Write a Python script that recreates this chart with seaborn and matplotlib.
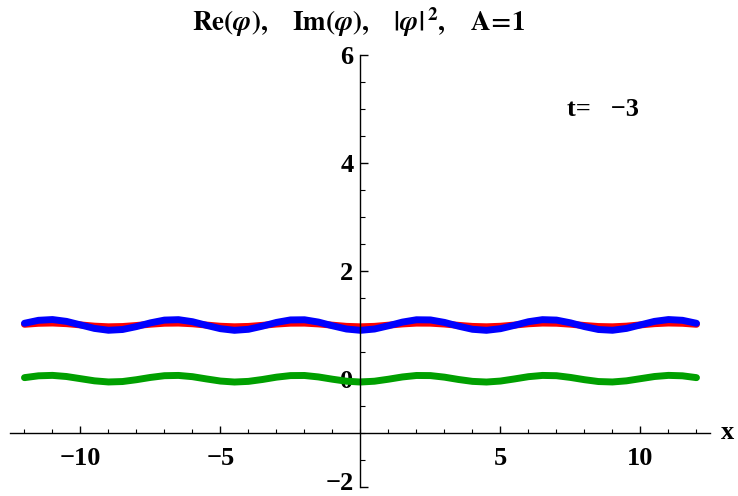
import matplotlib
matplotlib.use('Agg')
import matplotlib.pyplot as plt
import matplotlib.transforms as mtransforms
import pandas as pd
import seaborn as sns
from matplotlib.ticker import MultipleLocator

sns.set_theme(style='white')
plt.rcParams['font.family'] = ['Liberation Serif', 'DejaVu Serif']
plt.rcParams['font.weight'] = 'bold'
plt.rcParams['mathtext.fontset'] = 'stix'
plt.rcParams['text.color'] = 'black'

# x samples, read every 0.5 from -12 to 12
x_vals = [i * 0.5 for i in range(-24, 25)]

# |phi|^2 (blue) for x = 0 .. 12, curve is symmetric
abs2_half = [0.900, 0.924, 0.984, 1.052, 1.095, 1.092, 1.046, 0.977, 0.919, 0.900,
             0.930, 0.992, 1.059, 1.097, 1.089, 1.038, 0.969, 0.915, 0.901, 0.935,
             1.000, 1.065, 1.099, 1.085, 1.030]
# Re(phi) (red)
re_half = [0.965, 0.973, 0.995, 1.018, 1.033, 1.032, 1.016, 0.992, 0.972, 0.965,
           0.975, 0.997, 1.021, 1.034, 1.031, 1.013, 0.989, 0.970, 0.965, 0.977,
           1.000, 1.023, 1.035, 1.030, 1.011]
# Im(phi) (green)
im_half = [-0.057, -0.042, -0.005, 0.037, 0.064, 0.062, 0.033, -0.010, -0.045, -0.057,
           -0.039, 0.000, 0.042, 0.065, 0.060, 0.028, -0.014, -0.048, -0.056, -0.035,
           0.005, 0.045, 0.066, 0.058, 0.024]

abs2_vals = abs2_half[:0:-1] + abs2_half
re_vals = re_half[:0:-1] + re_half
im_vals = im_half[:0:-1] + im_half

df = pd.DataFrame({'x': x_vals, 're': re_vals, 'im': im_vals, 'abs2': abs2_vals})

fig = plt.figure(figsize=(7.38, 4.96), dpi=100)
ax = fig.add_axes([0.0142, 0.0181, 0.9485, 0.8716])

lw = 5
sns.lineplot(data=df, x='x', y='re', color='#ff0000', lw=lw, ax=ax, solid_capstyle='round')
sns.lineplot(data=df, x='x', y='im', color='#00a000', lw=lw, ax=ax, solid_capstyle='round')
sns.lineplot(data=df, x='x', y='abs2', color='#0000ff', lw=lw, ax=ax, solid_capstyle='round')

ax.set_xlim(-12.5, 12.5)
ax.set_ylim(-2, 6)
ax.set_xlabel('')
ax.set_ylabel('')

# axes crossing like Mathematica
ax.spines['left'].set_position(('data', 0))
ax.spines['bottom'].set_position(('data', -1))
ax.spines['top'].set_visible(False)
ax.spines['right'].set_visible(False)
for s in ['left', 'bottom']:
    ax.spines[s].set_color('black')
    ax.spines[s].set_linewidth(1.0)

ax.set_xticks([-10, -5, 5, 10])
ax.xaxis.set_minor_locator(MultipleLocator(1))
ax.set_yticks([-2, 0, 2, 4, 6])
ax.yaxis.set_minor_locator(MultipleLocator(0.5))
ax.tick_params(which='both', bottom=True, left=True, colors='black')
ax.tick_params(axis='x', which='major', direction='in', length=5, width=1, pad=10,
               labelsize=19)
ax.tick_params(axis='x', which='minor', direction='in', length=3, width=0.8)
ax.tick_params(axis='y', which='major', direction='in', length=6, width=1, pad=5,
               labelsize=19)
ax.tick_params(axis='y', which='minor', direction='in', length=3.5, width=0.8)

# keep the bottom "-2" label inside the canvas
fig.canvas.draw()
lbl = ax.get_yticklabels()[0]
lbl.set_transform(lbl.get_transform() +
                  mtransforms.ScaledTranslation(0, 4 / 72, fig.dpi_scale_trans))

ax.text(13.1, -1, 'x', ha='center', va='center', fontsize=19, clip_on=False)
ax.text(7.37, 4.98, 't=   \u22123', ha='left', va='center', fontsize=19)

title = (r'$\mathbf{Re(}\varphi\mathbf{),\ \ \ Im(}\varphi\mathbf{),\ \ \ |}'
         r'\varphi\mathbf{|}^{\,\mathbf{2}}\mathbf{,\ \ \ A\!=\!1}$')
fig.text(0.486, 0.955, title, ha='center', va='center', fontsize=19.5)

fig.savefig('out.png', dpi=100)
